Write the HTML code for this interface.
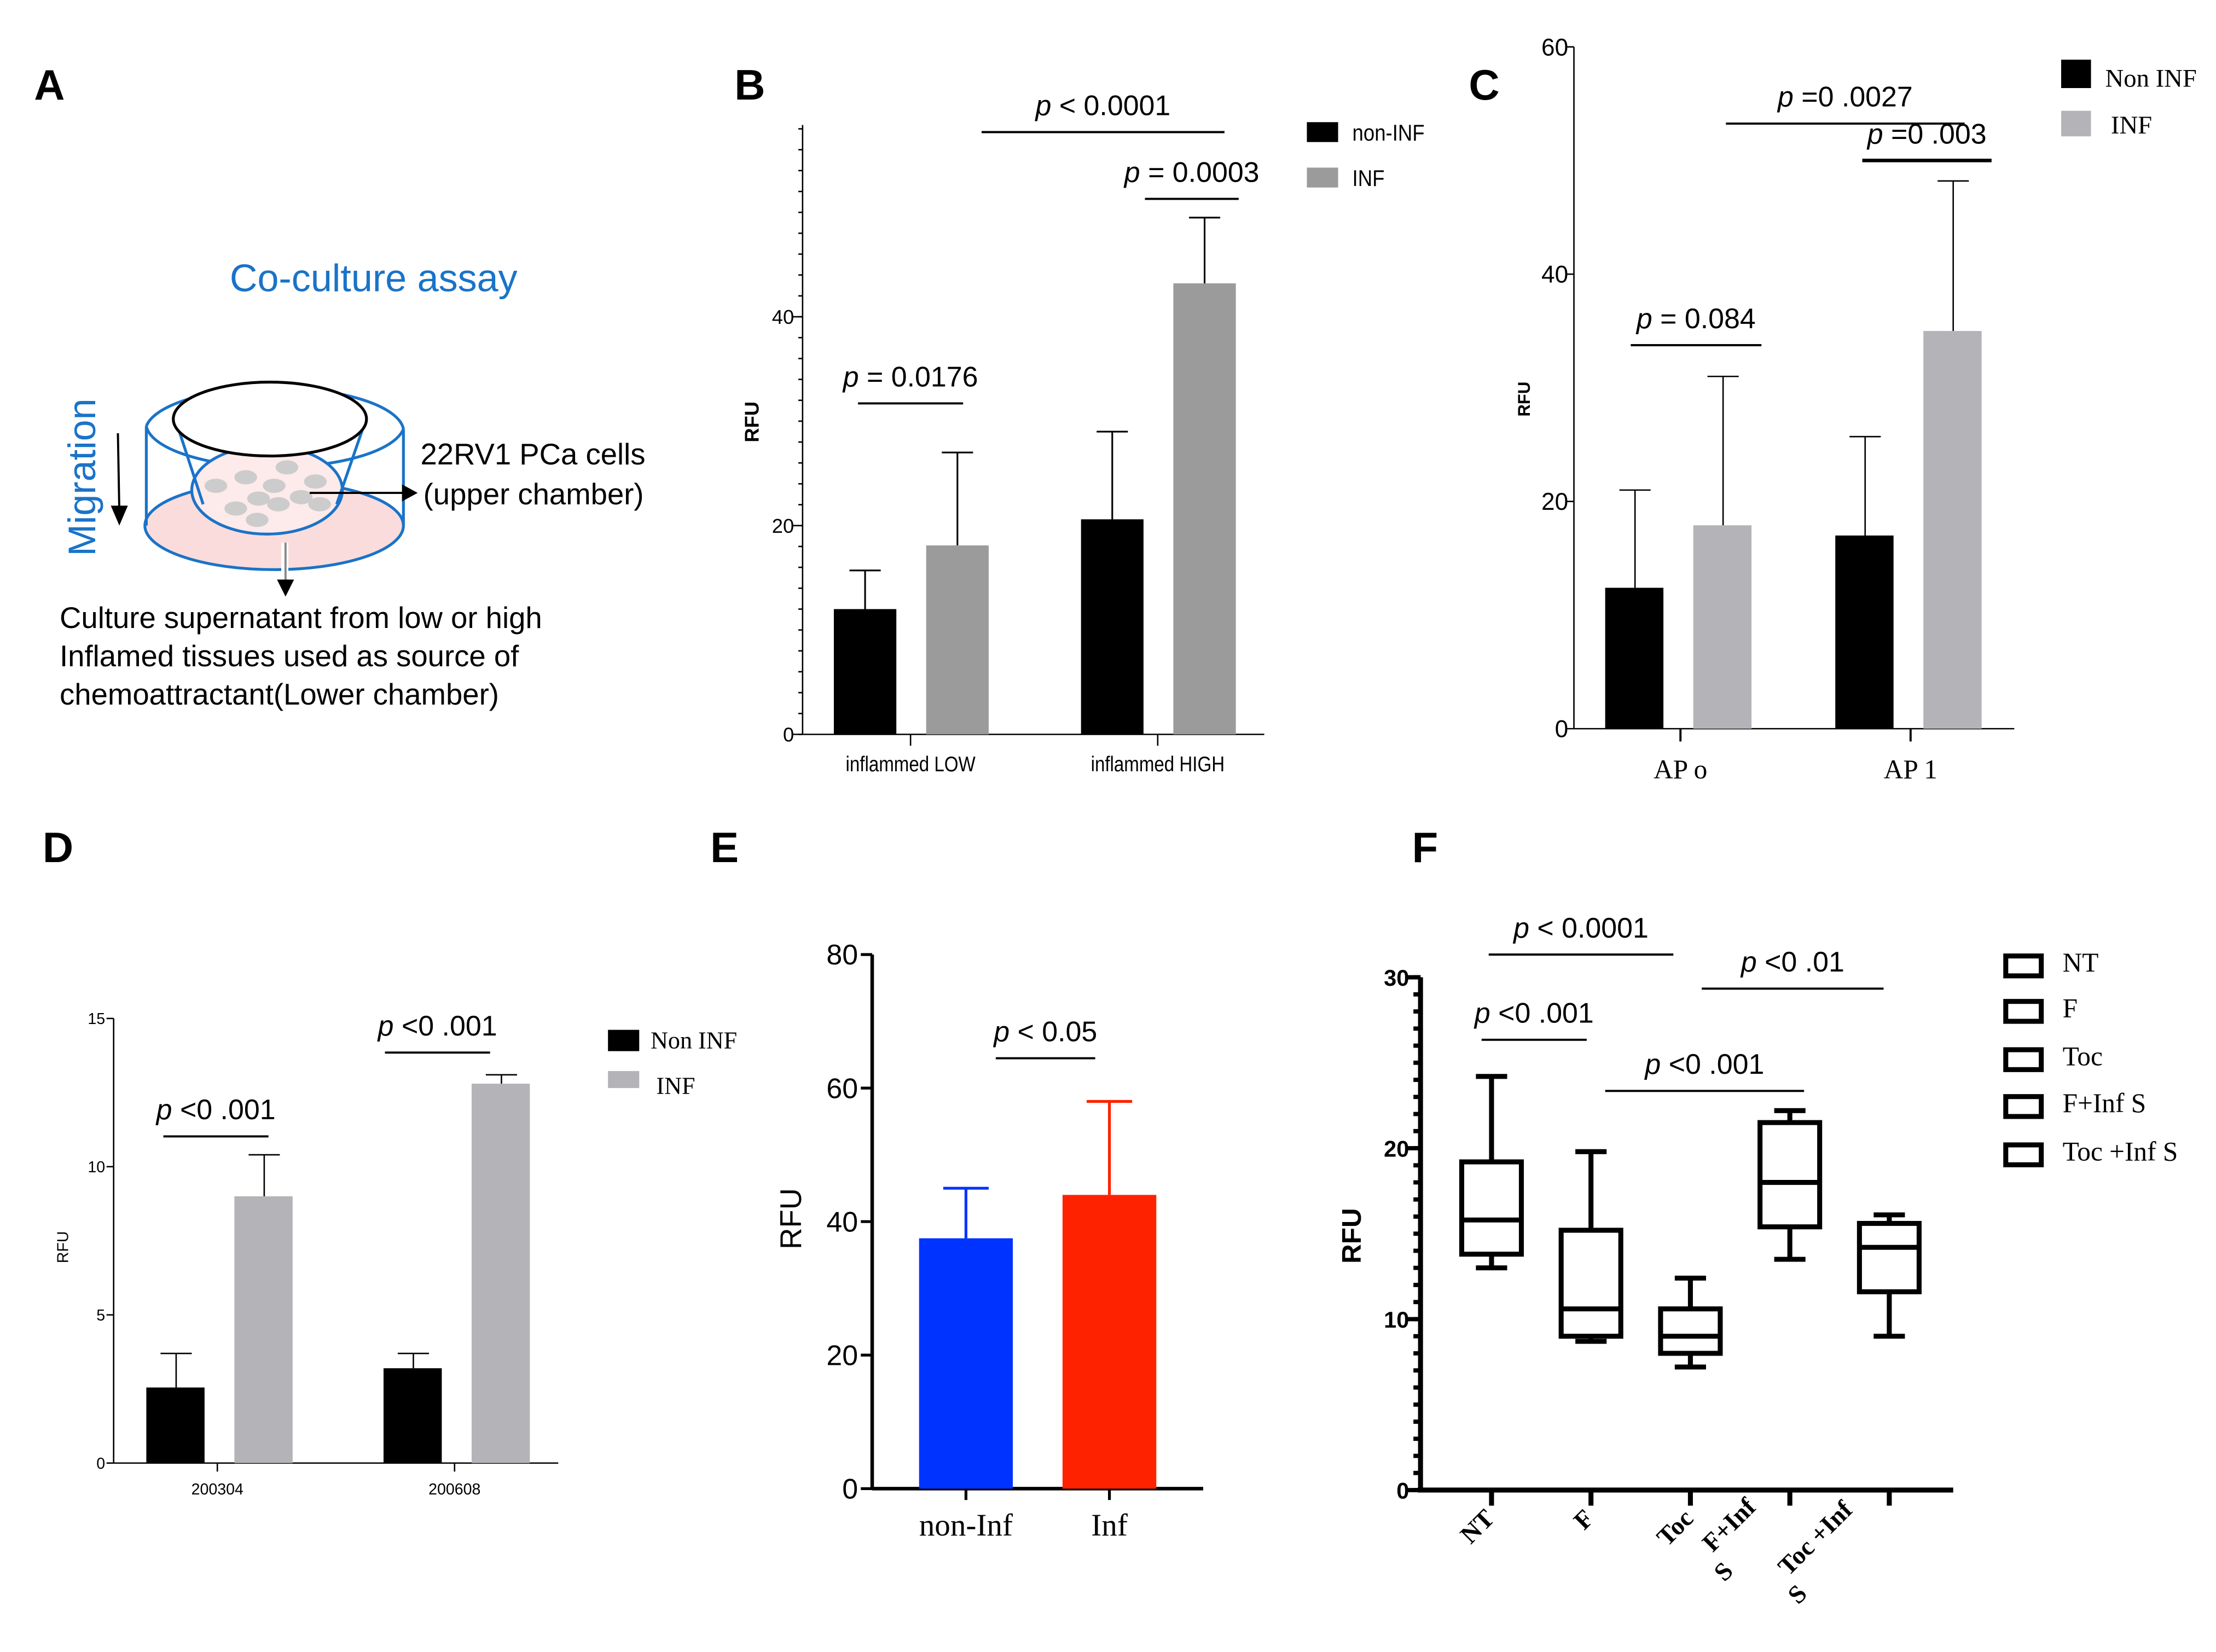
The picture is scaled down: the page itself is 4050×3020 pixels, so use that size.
<!DOCTYPE html>
<html><head><meta charset="utf-8"><style>
html,body{margin:0;padding:0;background:#fff;}
svg{display:block;}
text{font-family:"Liberation Sans",sans-serif;}
.serif{font-family:"Liberation Serif",serif;}
</style></head><body>
<svg id="fig" width="4050" height="3020" viewBox="0 0 1560 1163" preserveAspectRatio="none" xmlns="http://www.w3.org/2000/svg">
<rect width="1560" height="1163" fill="#fff"/>
<g font-weight="bold" font-size="30">
<text x="24" y="70">A</text><text x="517" y="70">B</text><text x="1034" y="70">C</text>
<text x="30" y="607">D</text><text x="500" y="607">E</text><text x="994" y="607">F</text>
</g>
<g>
<text x="263" y="205" font-size="27" fill="#1a73c8" text-anchor="middle">Co-culture assay</text>
<text transform="translate(67,336) rotate(-90)" font-size="27" fill="#1a73c8" text-anchor="middle">Migration</text>
<line x1="83" y1="305" x2="84" y2="360" stroke="#000" stroke-width="1.5"/>
<polygon points="78,356 90,356 84,370" fill="#000"/>
<ellipse cx="193" cy="370" rx="91" ry="31" fill="#fbdcdc" stroke="#1a73c8" stroke-width="2"/>
<line x1="103" y1="300" x2="103" y2="370" stroke="#1a73c8" stroke-width="2"/>
<line x1="284" y1="302" x2="284" y2="370" stroke="#1a73c8" stroke-width="2"/>
<path d="M103,300 A91,31 0 0 1 284,302" fill="none" stroke="#1a73c8" stroke-width="2"/>
<path d="M103,300 A91,31 0 0 0 284,302" fill="none" stroke="#1a73c8" stroke-width="2"/>
<ellipse cx="188" cy="345" rx="53" ry="31" fill="#fdeaea" stroke="#1a73c8" stroke-width="2"/>
<line x1="125" y1="300" x2="143" y2="355" stroke="#1a73c8" stroke-width="2"/>
<line x1="256" y1="300" x2="237" y2="355" stroke="#1a73c8" stroke-width="2"/>
<ellipse cx="190" cy="295" rx="68" ry="26" fill="#fff" stroke="#000" stroke-width="2"/>
<g fill="#ccc">
<ellipse cx="173" cy="336" rx="8" ry="5"/><ellipse cx="202" cy="329" rx="8" ry="5"/><ellipse cx="152" cy="342" rx="8" ry="5"/>
<ellipse cx="193" cy="342" rx="8" ry="5"/><ellipse cx="222" cy="339" rx="8" ry="5"/><ellipse cx="182" cy="351" rx="8" ry="5"/>
<ellipse cx="166" cy="358" rx="8" ry="5"/><ellipse cx="196" cy="355" rx="8" ry="5"/><ellipse cx="212" cy="350" rx="8" ry="5"/>
<ellipse cx="225" cy="355" rx="8" ry="5"/><ellipse cx="181" cy="366" rx="8" ry="5"/>
</g>
<line x1="218" y1="347" x2="285" y2="347" stroke="#000" stroke-width="1.5"/>
<polygon points="283,341 294,347 283,353" fill="#000"/>
<rect x="198" y="382" width="5" height="30" fill="#fff"/>
<line x1="201" y1="382" x2="201" y2="410" stroke="#888" stroke-width="1.5"/>
<polygon points="195,408 207,408 201,420" fill="#000"/>
<text x="296" y="327" font-size="21">22RV1 PCa cells</text>
<text x="298" y="355" font-size="21">(upper chamber)</text>
<text x="42" y="442" font-size="21">Culture supernatant from low or high</text>
<text x="42" y="469" font-size="21">Inflamed tissues used as source of</text>
<text x="42" y="496" font-size="21">chemoattractant(Lower chamber)</text>
</g>
<g id="charts"></g>
</svg>
<script>
const bGroups=["inflammed LOW","inflammed HIGH"];
const bNonInf=[12,20.6], bNonInfErr=[15.7,29];
const bInf=[18.1,43.2], bInfErr=[27,49.5];
const bTicks=[0,20,40];
const cGroups=["AP o","AP 1"];
const cNonInf=[12.4,17], cNonInfErr=[21,25.7];
const cInf=[17.9,35], cInfErr=[31,48.2];
const cTicks=[0,20,40,60];
const dGroups=["200304","200608"];
const dNonInf=[2.55,3.2], dNonInfErr=[3.7,3.7];
const dInf=[9,12.8], dInfErr=[10.4,13.1];
const dTicks=[0,5,10,15];
const eGroups=["non-Inf","Inf"];
const eValues=[37.5,44], eErr=[45,58];
const eTicks=[0,20,40,60,80];
const fGroups=["NT","F","Toc","F+Inf S","Toc +Inf S"];
const fMin=[13,8.7,7.2,13.5,9];
const fQ1=[13.8,9,8,15.4,11.6];
const fMed=[15.8,10.6,9,18,14.2];
const fQ3=[19.2,15.2,10.6,21.5,15.6];
const fMax=[24.2,19.8,12.4,22.2,16.1];
const fTicks=[0,10,20,30];

const NS="http://www.w3.org/2000/svg";
const root=document.getElementById('charts');
function mk(tag,attrs,parent,txt){const e=document.createElementNS(NS,tag);for(const k in attrs)e.setAttribute(k,attrs[k]);if(txt!==undefined)e.textContent=txt;(parent||root).appendChild(e);return e;}
function lin(d0,d1,r0,r1){return v=>r0+(v-d0)*(r1-r0)/(d1-d0);}
function line(g,x1,y1,x2,y2,w){return mk('line',{x1,y1,x2,y2,stroke:'#000','stroke-width':w||1.5},g);}
function ptext(g,x,y,rest,size){const t=mk('text',{x,y,'font-size':size,'text-anchor':'middle'},g);mk('tspan',{'font-style':'italic'},t,'p');mk('tspan',{},t,rest);return t;}
function sig(g,x1,x2,ly,label,size,w){line(g,x1,ly,x2,ly,w||1.5);ptext(g,(x1+x2)/2,ly-12,label,size);}

{const g=mk('g',{});
const y=lin(0,40,517,223);const xl=565,xr=890;
line(g,xl,88,xl,517,1);line(g,xl,517,xr,517,1);
for(let v=0;v<=58;v+=2){line(g,xl-3,y(v),xl,y(v),1);}
bTicks.forEach(v=>{line(g,xl-7,y(v),xl,y(v),1);mk('text',{x:xl-6,y:y(v)+5,'font-size':14,'text-anchor':'end'},g,String(v));});
const centers=[641,815];
bGroups.forEach((lab,i)=>{const c=centers[i];
 const b1=mk('rect',{x:c-54,y:y(bNonInf[i]),width:44,height:y(0)-y(bNonInf[i]),fill:'#000'},g);
 
 line(g,c-32,y(bNonInf[i]),c-32,y(bNonInfErr[i]),1.2);line(g,c-43,y(bNonInfErr[i]),c-21,y(bNonInfErr[i]),1.2);
 const b2=mk('rect',{x:c+11,y:y(bInf[i]),width:44,height:y(0)-y(bInf[i]),fill:'#9b9b9b'},g);
 
 line(g,c+33,y(bInf[i]),c+33,y(bInfErr[i]),1.2);line(g,c+22,y(bInfErr[i]),c+44,y(bInfErr[i]),1.2);
 line(g,c,517,c,525,1);
 mk('text',{x:c,y:543,'font-size':15,'text-anchor':'middle',transform:`translate(${c},0) scale(0.85,1) translate(${-c},0)`},g,lab);});
mk('text',{transform:'translate(534,297) rotate(-90)','font-size':14,'font-weight':'bold','text-anchor':'middle'},g,'RFU');
sig(g,604,678,284,' = 0.0176',20);sig(g,691,862,93,' < 0.0001',20);sig(g,806,872,140,' = 0.0003',20);
mk('rect',{x:920,y:86,width:22,height:14,fill:'#000'},g);mk('text',{x:952,y:99,'font-size':16,transform:'translate(952,0) scale(0.88,1) translate(-952,0)'},g,'non-INF');
mk('rect',{x:920,y:118,width:22,height:14,fill:'#9b9b9b'},g);mk('text',{x:952,y:131,'font-size':16,transform:'translate(952,0) scale(0.88,1) translate(-952,0)'},g,'INF');}

{const g=mk('g',{});
const y=lin(0,60,513,33);const xl=1108,xr=1418;
line(g,xl,33,xl,513,1);line(g,xl,513,xr,513,1);
cTicks.forEach(v=>{line(g,xl-6,y(v),xl,y(v),1);mk('text',{x:xl-4,y:y(v)+6,'font-size':17,'text-anchor':'end'},g,String(v));});
const centers=[1183,1345];
cGroups.forEach((lab,i)=>{const c=centers[i];
 const b1=mk('rect',{x:c-53,y:y(cNonInf[i]),width:41,height:y(0)-y(cNonInf[i]),fill:'#000'},g);
 
 line(g,c-32,y(cNonInf[i]),c-32,y(cNonInfErr[i]),1);line(g,c-43,y(cNonInfErr[i]),c-21,y(cNonInfErr[i]),1);
 const b2=mk('rect',{x:c+9,y:y(cInf[i]),width:41,height:y(0)-y(cInf[i]),fill:'#b4b3b8'},g);
 
 line(g,c+30,y(cInf[i]),c+30,y(cInfErr[i]),1);line(g,c+19,y(cInfErr[i]),c+41,y(cInfErr[i]),1);
 line(g,c,513,c,522,1.5);
 mk('text',{x:c,y:548,'font-size':19,'text-anchor':'middle',class:'serif'},g,lab);});
mk('text',{transform:'translate(1077,281) rotate(-90)','font-size':12,'font-weight':'bold','text-anchor':'middle'},g,'RFU');
sig(g,1148,1240,243,' = 0.084',20);sig(g,1215,1383,87,' =0 .0027',20);sig(g,1311,1402,113,' =0 .003',20,2.5);
mk('rect',{x:1451,y:42,width:21,height:20,fill:'#000'},g);mk('text',{x:1482,y:61,'font-size':18,class:'serif'},g,'Non INF');
mk('rect',{x:1451,y:78,width:21,height:18,fill:'#b4b3b8'},g);mk('text',{x:1486,y:94,'font-size':18,class:'serif'},g,'INF');}

{const g=mk('g',{});
const y=lin(0,15,1030,717);const xl=80,xr=393;
line(g,xl,717,xl,1030,1);line(g,xl,1030,xr,1030,1);
dTicks.forEach(v=>{line(g,xl-5,y(v),xl,y(v),1);mk('text',{x:xl-6,y:y(v)+4,'font-size':11,'text-anchor':'end'},g,String(v));});
const centers=[153,320];
dGroups.forEach((lab,i)=>{const c=centers[i];
 const b1=mk('rect',{x:c-50,y:y(dNonInf[i]),width:41,height:y(0)-y(dNonInf[i]),fill:'#000'},g);
 
 line(g,c-29,y(dNonInf[i]),c-29,y(dNonInfErr[i]),1);line(g,c-40,y(dNonInfErr[i]),c-18,y(dNonInfErr[i]),1);
 const b2=mk('rect',{x:c+12,y:y(dInf[i]),width:41,height:y(0)-y(dInf[i]),fill:'#b4b3b8'},g);
 
 line(g,c+33,y(dInf[i]),c+33,y(dInfErr[i]),1);line(g,c+22,y(dInfErr[i]),c+44,y(dInfErr[i]),1);
 line(g,c,1030,c,1036,1);
 mk('text',{x:c,y:1052,'font-size':11,'text-anchor':'middle'},g,lab);});
mk('text',{transform:'translate(48,878) rotate(-90)','font-size':11,'text-anchor':'middle'},g,'RFU');
sig(g,115,189,800,' <0 .001',20);sig(g,271,345,741,' <0 .001',20);
mk('rect',{x:428,y:725,width:22,height:15,fill:'#000'},g);mk('text',{x:458,y:738,'font-size':17,class:'serif'},g,'Non INF');
mk('rect',{x:428,y:754,width:22,height:12,fill:'#b4b3b8'},g);mk('text',{x:462,y:770,'font-size':17,class:'serif'},g,'INF');}

{const g=mk('g',{});
const y=lin(0,80,1048,672);const xl=614,xr=847;
line(g,xl,672,xl,1048,2.5);line(g,xl,1048,xr,1048,2.5);
eTicks.forEach(v=>{line(g,xl-8,y(v),xl,y(v),2);mk('text',{x:xl-10,y:y(v)+7,'font-size':20,'text-anchor':'end'},g,String(v));});
const centers=[680,781];const cols=['#0033ff','#ff2200'];
eGroups.forEach((lab,i)=>{const c=centers[i];
 const b=mk('rect',{x:c-33,y:y(eValues[i]),width:66,height:y(0)-y(eValues[i]),fill:cols[i]},g);
 
 mk('line',{x1:c,y1:y(eValues[i]),x2:c,y2:y(eErr[i]),stroke:cols[i],'stroke-width':2},g);
 mk('line',{x1:c-16,y1:y(eErr[i]),x2:c+16,y2:y(eErr[i]),stroke:cols[i],'stroke-width':2},g);
 line(g,c,1048,c,1056,2);
 mk('text',{x:c,y:1081,'font-size':22,'text-anchor':'middle',class:'serif'},g,lab);});
mk('text',{transform:'translate(564,858) rotate(-90)','font-size':21,'text-anchor':'middle'},g,'RFU');
sig(g,701,771,745,' < 0.05',20);}

{const g=mk('g',{});
const y=lin(0,30,1049,688);const xl=1000,xr=1375;
line(g,xl,688,xl,1049,3.5);line(g,xl-2,1049,xr,1049,3.5);
for(let v=0;v<=30;v++){line(g,xl-5,y(v),xl,y(v),3);}
fTicks.forEach(v=>{line(g,xl-9,y(v),xl,y(v),3);mk('text',{x:xl-8,y:y(v)+6,'font-size':16,'font-weight':'bold','text-anchor':'end'},g,String(v));});
const centers=[1050,1120,1190,1260,1330];
fGroups.forEach((lab,i)=>{const c=centers[i];const w=3.5;
 const b=mk('rect',{x:c-21,y:y(fQ3[i]),width:42,height:y(fQ1[i])-y(fQ3[i]),fill:'none',stroke:'#000','stroke-width':w},g);
 
 line(g,c-21,y(fMed[i]),c+21,y(fMed[i]),w);
 line(g,c,y(fQ3[i]),c,y(fMax[i]),w);line(g,c-11,y(fMax[i]),c+11,y(fMax[i]),w);
 line(g,c,y(fQ1[i]),c,y(fMin[i]),w);line(g,c-11,y(fMin[i]),c+11,y(fMin[i]),w);
 line(g,c,1049,c,1060,3.5);});
const labs=[["NT"],["F"],["Toc"],["F+Inf","S"],["Toc +Inf","S"]];
const l1Off=[[3,0],[3,0],[3,0],[-23,-8],[-25,-6]];
const sOff=[[0,0],[0,0],[0,0],[-39,37],[-57,53]];
labs.forEach((ls,i)=>{const c=centers[i];
 mk('text',{transform:`translate(${c+l1Off[i][0]},${1070+l1Off[i][1]}) rotate(-45)`,'font-size':18,'font-weight':'bold','text-anchor':'end',class:'serif'},g,ls[0]);
 if(ls[1]) mk('text',{transform:`translate(${c+sOff[i][0]},${1070+sOff[i][1]}) rotate(-45)`,'font-size':18,'font-weight':'bold','text-anchor':'end',class:'serif'},g,ls[1]);});
mk('text',{transform:'translate(958,870) rotate(-90)','font-size':19,'font-weight':'bold','text-anchor':'middle'},g,'RFU');
sig(g,1048,1178,672,' < 0.0001',20);sig(g,1043,1117,732,' <0 .001',20);sig(g,1198,1326,696,' <0 .01',20);sig(g,1130,1270,768,' <0 .001',20);
const ly=[680,712,746,779,813];
fGroups.forEach((lab,i)=>{const r=mk('rect',{x:1412,y:ly[i]-7,width:25,height:14,fill:'none',stroke:'#000','stroke-width':3.5},g);
 
 mk('text',{x:1452,y:ly[i]+4,'font-size':19,class:'serif'},g,lab);});}
</script>
</body></html>
